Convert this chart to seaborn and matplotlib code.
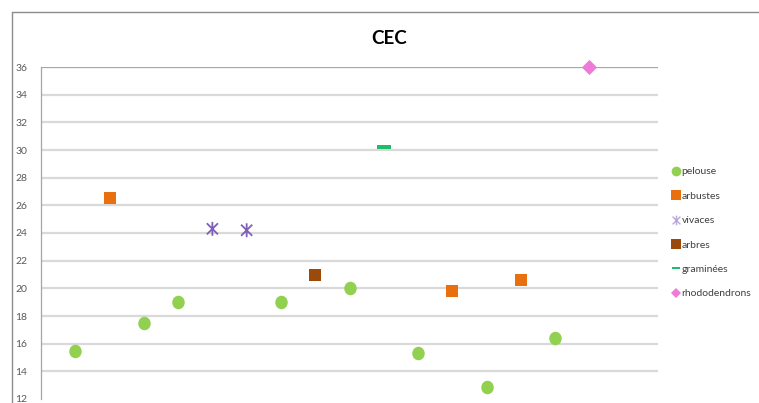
import matplotlib
matplotlib.use("Agg")
import matplotlib.pyplot as plt
from matplotlib.lines import Line2D
from matplotlib.path import Path
import seaborn as sns
import pandas as pd

# CEC values per sample, grouped by planting type
pelouse_x = [1, 3, 4, 7, 9, 11, 13, 15]
pelouse_y = [15.5, 17.5, 19.0, 19.0, 20.0, 15.35, 12.9, 16.4]
arbustes_x = [2, 12, 14]
arbustes_y = [26.5, 19.8, 20.6]
vivaces_x = [5, 6]
vivaces_y = [24.3, 24.2]
arbres_x = [8]
arbres_y = [21.0]
graminees_x = [10]
graminees_y = [30.2]
rhodo_x = [16]
rhodo_y = [36.0]

series_names = ["pelouse", "arbustes", "vivaces", "arbres", "graminées", "rhododendrons"]
series_colors = ["#92D050", "#E8700E", "#7F5FB8", "#9A4A0A", "#1DBF6A", "#F07AD8"]
y_ticks = [12, 14, 16, 18, 20, 22, 24, 26, 28, 30, 32, 34, 36]

frames = []
for name, xs, ys in zip(series_names,
                        [pelouse_x, arbustes_x, vivaces_x, arbres_x, graminees_x, rhodo_x],
                        [pelouse_y, arbustes_y, vivaces_y, arbres_y, graminees_y, rhodo_y]):
    frames.append(pd.DataFrame({"x": xs, "CEC": ys, "type": name}))
df = pd.concat(frames, ignore_index=True)

# Asterisk-like star: an X crossed by a vertical stroke
star = Path([(-1, -1), (1, 1), (-1, 1), (1, -1), (0, -1.25), (0, 1.25)],
            [Path.MOVETO, Path.LINETO, Path.MOVETO, Path.LINETO, Path.MOVETO, Path.LINETO])
# Short flat bar
bar = Path([(-1, -0.22), (1, -0.22), (1, 0.22), (-1, 0.22), (-1, -0.22)],
           [Path.MOVETO, Path.LINETO, Path.LINETO, Path.LINETO, Path.CLOSEPOLY])
# Slightly tall ellipse for the lawn samples
ellipse = Path.unit_circle().transformed(matplotlib.transforms.Affine2D().scale(0.92, 1.0))

sns.set_style("white")
plt.rcParams["font.family"] = ["Lato", "DejaVu Sans"]

fig = plt.figure(figsize=(7.59, 4.03), dpi=100)
ax = fig.add_axes([41 / 759, 1 - 399 / 403, (658 - 41) / 759, (399 - 67) / 403])

styles = {
    "pelouse": dict(marker=ellipse, s=95),
    "arbustes": dict(marker="s", s=78),
    "vivaces": dict(marker=star, s=100),
    "arbres": dict(marker="s", s=78),
    "graminées": dict(marker=bar, s=110),
    "rhododendrons": dict(marker="D", s=60),
}

for name, color in zip(series_names, series_colors):
    sub = df[df["type"] == name]
    st = styles[name]
    if name == "vivaces":
        sns.scatterplot(data=sub, x="x", y="CEC", ax=ax, color=color, marker=st["marker"],
                        s=st["s"], linewidth=1.3, edgecolor=color, facecolor="none",
                        zorder=3, legend=False, clip_on=False)
    else:
        sns.scatterplot(data=sub, x="x", y="CEC", ax=ax, color=color, marker=st["marker"],
                        s=st["s"], linewidth=0, zorder=3, legend=False, clip_on=False)

ax.set_xlim(0, 18)
ax.set_ylim(12, 36)
ax.set_yticks(y_ticks)
ax.set_yticklabels([str(t) for t in y_ticks], fontsize=7.5, color="#595959")
ax.set_xticks([])
ax.set_xlabel("")
ax.set_ylabel("")
ax.tick_params(axis="y", length=0, pad=10)

for t in y_ticks[1:-1]:
    ax.axhline(t, color="#D9D9D9", lw=1.6, zorder=1)
ax.axhline(36, color="#A6A6A6", lw=0.9, zorder=1)

for side in ["top", "right", "bottom"]:
    ax.spines[side].set_visible(False)
ax.spines["left"].set_color("#A6A6A6")
ax.spines["left"].set_linewidth(0.9)

fig.text(389 / 759, 1 - 38 / 403, "CEC", ha="center", va="center",
         fontsize=13.5, fontweight="bold", color="#000000")

# Outer chart frame
fig.add_artist(Line2D([12 / 759, 1], [1 - 12 / 403, 1 - 12 / 403],
                      transform=fig.transFigure, color="#8C8C8C", lw=1.0))
fig.add_artist(Line2D([12 / 759, 12 / 759], [0, 1 - 12 / 403],
                      transform=fig.transFigure, color="#8C8C8C", lw=1.0))

handles = []
for name, color in zip(series_names, series_colors):
    if name == "vivaces":
        h = Line2D([], [], linestyle="none", marker=star, markersize=7,
                   markeredgecolor="#B9A6DD", markerfacecolor="none", markeredgewidth=1.0)
    elif name == "graminées":
        h = Line2D([], [], linestyle="none", marker=bar, markersize=6,
                   markerfacecolor=color, markeredgewidth=0)
    elif name == "rhododendrons":
        h = Line2D([], [], linestyle="none", marker="D", markersize=5,
                   markerfacecolor=color, markeredgewidth=0)
    elif name == "pelouse":
        h = Line2D([], [], linestyle="none", marker="o", markersize=7,
                   markerfacecolor=color, markeredgewidth=0)
    else:
        h = Line2D([], [], linestyle="none", marker="s", markersize=7,
                   markerfacecolor=color, markeredgewidth=0)
    handles.append(h)

leg = fig.legend(handles, series_names, loc="upper left",
                 bbox_to_anchor=(668 / 759, 1 - 163 / 403), frameon=False,
                 fontsize=7.5, handlelength=0.8, handletextpad=0.1,
                 labelspacing=1.45, borderaxespad=0)
for txt in leg.get_texts():
    txt.set_color("#404040")

fig.savefig("out.png", dpi=100)
